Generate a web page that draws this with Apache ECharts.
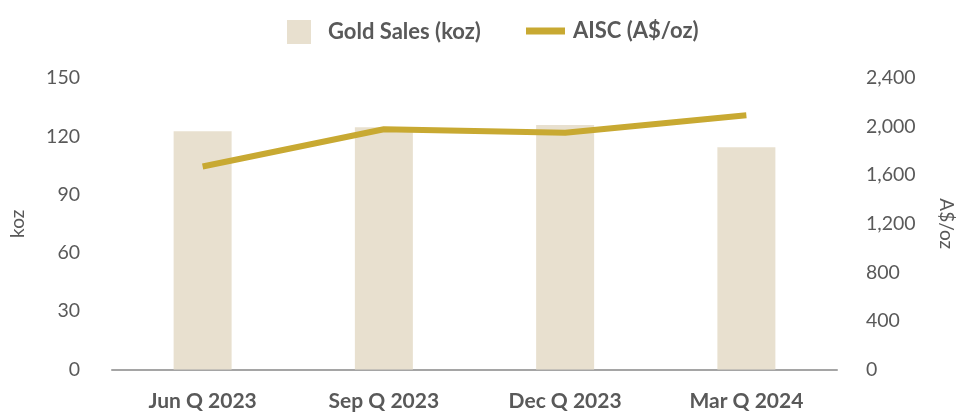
<!DOCTYPE html>
<html>
<head>
<meta charset="utf-8">
<script src="https://cdn.jsdelivr.net/npm/echarts@6/dist/echarts.min.js"></script>
<style>html,body{margin:0;padding:0;background:#fff}#c{width:959px;height:412px}</style>
</head>
<body>
<div id="c"></div>
<script>
const categories = ['Jun Q 2023', 'Sep Q 2023', 'Dec Q 2023', 'Mar Q 2024'];
const goldSales = [122.6, 124.7, 125.8, 114.4];
const aisc = [1671, 1978, 1950, 2093];
const leftTicks = { min: 0, max: 150, interval: 30 };
const rightTicks = { min: 0, max: 2400, interval: 400 };

const FONT = 'Lato, "Open Sans", sans-serif';
const GRAY = '#595959';
const chart = echarts.init(document.getElementById('c'), null, { renderer: 'canvas' });
chart.setOption({
  animation: false,
  textStyle: { fontFamily: FONT },
  legend: [
    {
      data: ['Gold Sales (koz)'],
      left: 282, top: 15,
      itemWidth: 24, itemHeight: 24,
      icon: 'rect',
      textStyle: { fontFamily: FONT, fontSize: 22, fontWeight: 'bold', color: GRAY, padding: [4, 0, 0, 12] }
    },
    {
      data: ['AISC (A$/oz)'],
      left: 521, top: 15,
      itemWidth: 39, itemHeight: 7,
      icon: 'rect',
      textStyle: { fontFamily: FONT, fontSize: 22, fontWeight: 'bold', color: GRAY, padding: [0, 0, 0, 3] }
    }
  ],
  grid: { left: 112, right: 122, top: 78, bottom: 42.5, containLabel: false, outerBoundsMode: 'none' },
  xAxis: {
    type: 'category',
    data: categories,
    axisLine: { lineStyle: { color: '#a5a5a5', width: 2 } },
    axisTick: { show: false },
    axisLabel: { fontFamily: FONT, fontSize: 21, fontWeight: 'bold', color: GRAY, margin: 21 }
  },
  yAxis: [
    {
      type: 'value',
      min: leftTicks.min, max: leftTicks.max, interval: leftTicks.interval,
      name: 'koz', nameLocation: 'middle', nameGap: 85, nameRotate: 90,
      nameTextStyle: { fontFamily: FONT, fontSize: 19, color: GRAY },
      axisLine: { show: false }, axisTick: { show: false }, splitLine: { show: false },
      axisLabel: { fontFamily: FONT, fontSize: 19.5, color: GRAY, margin: 32 }
    },
    {
      type: 'value',
      min: rightTicks.min, max: rightTicks.max, interval: rightTicks.interval,
      name: 'A$/oz', nameLocation: 'middle', nameGap: 100, nameRotate: -90,
      nameTextStyle: { fontFamily: FONT, fontSize: 19, color: GRAY },
      axisLine: { show: false }, axisTick: { show: false }, splitLine: { show: false },
      axisLabel: { fontFamily: FONT, fontSize: 19.5, color: GRAY, margin: 29,
        formatter: v => v.toLocaleString('en-US') }
    }
  ],
  series: [
    {
      name: 'Gold Sales (koz)', type: 'bar', yAxisIndex: 0,
      data: goldSales, barWidth: 58,
      itemStyle: { color: '#E8E0CF' }
    },
    {
      name: 'AISC (A$/oz)', type: 'line', yAxisIndex: 1,
      data: aisc, showSymbol: false, symbol: 'none',
      lineStyle: { color: '#C8A932', width: 6, cap: 'butt', join: 'round' },
      itemStyle: { color: '#C8A932' }
    }
  ]
});
</script>
</body>
</html>
